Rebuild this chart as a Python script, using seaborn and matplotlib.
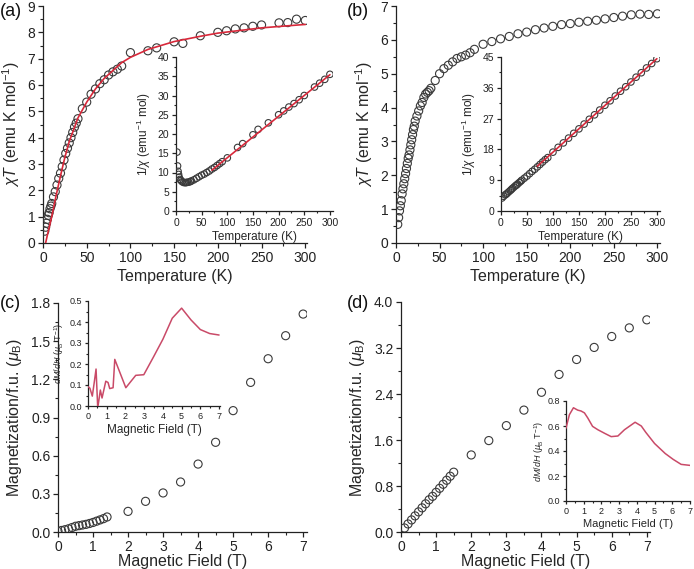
import numpy as np
import pandas as pd
import matplotlib
matplotlib.use("Agg")
import matplotlib.pyplot as plt
from matplotlib.ticker import MultipleLocator, FormatStrFormatter
import seaborn as sns

sns.set_theme(style="white")
plt.rcParams['font.family'] = ['Liberation Sans', 'DejaVu Sans']
plt.rcParams['mathtext.fontset'] = 'custom'
plt.rcParams['mathtext.rm'] = 'Liberation Sans'
plt.rcParams['mathtext.it'] = 'Liberation Sans:italic'

# ---------------- data ----------------
# (a) chi*T vs T
a_T = [2, 3, 4, 5, 6, 7, 8, 9, 10, 12, 14, 16, 18, 20, 22, 24, 26, 28, 30, 32, 34, 36, 38, 40,
       45, 50, 55, 60, 65, 70, 75, 80, 85, 90, 100, 120, 130, 150, 160, 180, 200, 210, 220,
       230, 240, 250, 270, 280, 290, 300]
a_chiT = [0.45, 0.6, 0.75, 0.9, 1.05, 1.15, 1.3, 1.4, 1.5, 1.75, 1.95, 2.2, 2.45, 2.65, 2.9,
          3.15, 3.4, 3.6, 3.8, 4.0, 4.2, 4.4, 4.55, 4.72, 5.1, 5.35, 5.65, 5.85, 6.05, 6.2,
          6.38, 6.5, 6.6, 6.72, 7.23, 7.3, 7.41, 7.64, 7.58, 7.87, 8.0, 8.06, 8.13, 8.17,
          8.23, 8.28, 8.36, 8.37, 8.5, 8.45]
a_fit_T = [3, 5, 10, 15, 20, 25, 30, 40, 50, 60, 70, 80, 90, 100, 120, 150, 180, 200, 250, 300]
a_fit_chiT = [0.0, 0.3, 1.0, 1.8, 2.55, 3.25, 3.85, 4.75, 5.35, 5.85, 6.25, 6.55, 6.85, 7.05,
              7.35, 7.65, 7.85, 7.97, 8.17, 8.3]
# (a) inset 1/chi vs T
ai_T = [2, 3, 4, 5, 6, 8, 10, 12, 15, 18, 20, 22, 25, 28, 30, 35, 40, 45, 50, 55, 60, 65, 70,
        75, 80, 85, 90, 100, 120, 130, 150, 160, 180, 200, 210, 220, 230, 240, 250, 270, 280,
        290, 300]
ai_inv = [15.3, 11.7, 10.3, 9.5, 8.8, 8.2, 7.9, 7.6, 7.4, 7.35, 7.4, 7.45, 7.5, 7.65, 7.8, 8.1,
          8.5, 8.9, 9.3, 9.6, 10.0, 10.4, 10.9, 11.3, 11.8, 12.3, 12.8, 13.8, 16.5, 17.5, 19.8,
          21.2, 22.9, 25.0, 26.0, 27.0, 27.9, 28.9, 30.0, 32.2, 33.2, 34.2, 35.5]
ai_fit_T = [70, 300]
ai_fit_inv = [10.6, 35.4]

# (b) chi*T vs T
b_T = [2, 3, 4, 5, 6, 7, 8, 9, 10, 11, 12, 13, 14, 15, 16, 17, 18, 19, 20, 21, 22, 24, 26, 28,
       30, 32, 34, 36, 38, 40, 45, 50, 55, 60, 65, 70, 75, 80, 85, 90, 100, 110, 120, 130,
       140, 150, 160, 170, 180, 190, 200, 210, 220, 230, 240, 250, 260, 270, 280, 290, 300]
b_chiT = [0.55, 0.75, 0.95, 1.1, 1.25, 1.45, 1.6, 1.75, 1.9, 2.05, 2.2, 2.35, 2.5, 2.6, 2.75,
          2.9, 3.05, 3.2, 3.35, 3.45, 3.6, 3.75, 3.9, 4.05, 4.15, 4.3, 4.4, 4.45, 4.5, 4.57,
          4.8, 5.0, 5.15, 5.25, 5.35, 5.45, 5.5, 5.55, 5.62, 5.72, 5.87, 5.95, 6.03, 6.1, 6.18,
          6.23, 6.3, 6.35, 6.4, 6.45, 6.48, 6.52, 6.55, 6.58, 6.62, 6.66, 6.7, 6.74, 6.76,
          6.75, 6.77]
# (b) inset 1/chi vs T
bi_T = [2, 5, 8, 10, 12, 15, 18, 20, 22, 25, 28, 30, 32, 35, 38, 40, 45, 50, 55, 60, 65, 70,
        75, 80, 85, 90, 100, 110, 120, 130, 140, 150, 160, 170, 180, 190, 200, 210, 220, 230,
        240, 250, 260, 270, 280, 290, 300]
bi_inv = [3.8, 4.3, 4.7, 4.9, 5.2, 5.6, 6.0, 6.3, 6.6, 7.0, 7.4, 7.6, 7.9, 8.3, 8.7, 9.0, 9.6,
          10.2, 10.9, 11.6, 12.2, 12.9, 13.6, 14.3, 15.0, 15.6, 17.2, 18.6, 19.9, 21.3, 22.7,
          24.0, 25.4, 26.8, 28.1, 29.5, 30.9, 32.2, 33.6, 35.0, 36.3, 37.7, 39.1, 40.4, 41.8,
          43.1, 44.5]
bi_fit_T = [70, 300]
bi_fit_inv = [13.1, 44.5]

# (c) magnetization vs field
c_H = [0.0, 0.1, 0.2, 0.3, 0.4, 0.5, 0.6, 0.7, 0.8, 0.9, 1.0, 1.1, 1.2, 1.3, 1.4,
       2.0, 2.5, 3.0, 3.5, 4.0, 4.5, 5.0, 5.5, 6.0, 6.5, 7.0]
c_M = [0.005, 0.012, 0.018, 0.025, 0.035, 0.045, 0.05, 0.055, 0.06, 0.067, 0.075, 0.085,
       0.095, 0.105, 0.118, 0.162, 0.241, 0.307, 0.393, 0.534, 0.705, 0.954, 1.176, 1.362,
       1.543, 1.713]
ci_H = [0.0, 0.1, 0.23, 0.33, 0.43, 0.52, 0.66, 0.75, 0.95, 1.07, 1.16, 1.34, 1.43, 2.02,
        2.55, 2.98, 3.5, 4.0, 4.5, 5.0, 5.5, 6.0, 6.5, 7.0]
ci_dMdH = [0.092, 0.085, 0.047, 0.11, 0.176, -0.01, 0.076, 0.038, 0.118, 0.112, 0.083, 0.087,
           0.222, 0.087, 0.146, 0.149, 0.234, 0.318, 0.418, 0.466, 0.41, 0.364, 0.345, 0.338]

# (d) magnetization vs field
d_H = [0.1, 0.2, 0.3, 0.4, 0.5, 0.6, 0.7, 0.8, 0.9, 1.0, 1.1, 1.2, 1.3, 1.4, 1.5,
       2.0, 2.5, 3.0, 3.5, 4.0, 4.5, 5.0, 5.5, 6.0, 6.5, 7.0]
d_M = [0.07, 0.14, 0.21, 0.28, 0.35, 0.42, 0.49, 0.56, 0.62, 0.69, 0.76, 0.83, 0.9, 0.97, 1.04,
       1.34, 1.59, 1.85, 2.12, 2.43, 2.74, 3.0, 3.21, 3.4, 3.55, 3.69]
di_H = [0.0, 0.19, 0.42, 0.66, 0.85, 1.04, 1.23, 1.5, 1.8, 2.2, 2.55, 2.93, 3.3, 3.6, 3.9,
        4.25, 4.5, 5.0, 5.6, 6.05, 6.5, 7.0]
di_dMdH = [0.583, 0.69, 0.746, 0.727, 0.72, 0.705, 0.664, 0.597, 0.57, 0.54, 0.515, 0.52,
           0.57, 0.6, 0.63, 0.6, 0.55, 0.46, 0.38, 0.333, 0.293, 0.285]

# ---------------- figure ----------------
W, H = 694, 569
fig = plt.figure(figsize=(W / 100, H / 100), dpi=100)

def add_ax(left, top, right, bottom):
    return fig.add_axes([left / W, 1 - bottom / H, (right - left) / W, (bottom - top) / H])

EDGE = '#3a3a3a'
RED = '#d8283a'
PINK = '#c94a68'

def style(ax, xmaj, xmin, ymaj, ymin, fs, yfmt=None, tl=3.5):
    for s in ['top', 'right']:
        ax.spines[s].set_visible(False)
    for s in ['left', 'bottom']:
        ax.spines[s].set_color('#222222')
        ax.spines[s].set_linewidth(0.9)
    ax.xaxis.set_major_locator(MultipleLocator(xmaj))
    ax.xaxis.set_minor_locator(MultipleLocator(xmin))
    ax.yaxis.set_major_locator(MultipleLocator(ymaj))
    ax.yaxis.set_minor_locator(MultipleLocator(ymin))
    if yfmt:
        ax.yaxis.set_major_formatter(FormatStrFormatter(yfmt))
    ax.tick_params(which='major', direction='out', length=tl, width=0.9, labelsize=fs,
                   colors='#222222', bottom=True, left=True, pad=2)
    ax.tick_params(which='minor', direction='out', length=tl * 0.55, width=0.8,
                   colors='#222222', bottom=True, left=True)
    ax.set_facecolor('none')
    ax.grid(False)

def scat(ax, x, y, s):
    df = pd.DataFrame({'x': x, 'y': y})
    sns.scatterplot(data=df, x='x', y='y', ax=ax, marker='o', s=s, facecolor='none',
                    edgecolor=EDGE, linewidth=0.8, zorder=3)

def line(ax, x, y, color, lw=1.2):
    df = pd.DataFrame({'x': x, 'y': y})
    sns.lineplot(data=df, x='x', y='y', ax=ax, color=color, linewidth=lw, sort=False,
                 estimator=None, zorder=4)

MAIN_FS = 10
LAB_FS = 11.5
IN_FS = 7.5
IN_LAB_FS = 8.5

chiT_label = r'$\chi T$ (emu K mol$^{-1}$)'
inv_label = r'1/$\chi$ (emu$^{-1}$ mol)'

# (a)
ax = add_ax(43, 6, 307, 243)
scat(ax, a_T, a_chiT, 34)
line(ax, a_fit_T, a_fit_chiT, RED)
ax.set_xlim(0, 302); ax.set_ylim(0, 9)
style(ax, 50, 25, 1, 0.5, MAIN_FS)
ax.set_xlabel('Temperature (K)', fontsize=LAB_FS, labelpad=3)
ax.set_ylabel(chiT_label, fontsize=LAB_FS, labelpad=4)

axi = add_ax(176, 57, 333, 211)
scat(axi, ai_T, ai_inv, 22)
line(axi, ai_fit_T, ai_fit_inv, RED)
axi.set_xlim(0, 306); axi.set_ylim(0, 40)
style(axi, 50, 25, 5, 2.5, IN_FS, tl=3)
axi.set_xlabel('Temperature (K)', fontsize=IN_LAB_FS, labelpad=2)
axi.set_ylabel(inv_label, fontsize=IN_LAB_FS, labelpad=3)

# (b)
ax = add_ax(396, 6, 660, 243)
scat(ax, b_T, b_chiT, 34)
ax.set_xlim(0, 303); ax.set_ylim(0, 7)
style(ax, 50, 25, 1, 0.5, MAIN_FS)
ax.set_xlabel('Temperature (K)', fontsize=LAB_FS, labelpad=3)
ax.set_ylabel(chiT_label, fontsize=LAB_FS, labelpad=4)

axi = add_ax(501, 57, 660, 211)
scat(axi, bi_T, bi_inv, 22)
line(axi, bi_fit_T, bi_fit_inv, RED)
axi.set_xlim(0, 306); axi.set_ylim(0, 45)
style(axi, 50, 25, 9, 4.5, IN_FS, tl=3)
axi.set_xlabel('Temperature (K)', fontsize=IN_LAB_FS, labelpad=2)
axi.set_ylabel(inv_label, fontsize=IN_LAB_FS, labelpad=3)

# (c)
ax = add_ax(58, 303, 307, 532)
scat(ax, c_H, c_M, 34)
ax.set_xlim(0, 7.11); ax.set_ylim(0, 1.8)
style(ax, 1, 0.5, 0.3, 0.15, MAIN_FS, yfmt='%.1f')
ax.set_xlabel('Magnetic Field (T)', fontsize=LAB_FS, labelpad=0)
ax.set_ylabel(r'Magnetization/f.u. ($\mu_{\rm B}$)', fontsize=LAB_FS, labelpad=5)

axi = add_ax(88, 301, 220, 406)
line(axi, ci_H, ci_dMdH, PINK, lw=1.1)
axi.set_xlim(0, 7.05); axi.set_ylim(0, 0.5)
style(axi, 1, 0.5, 0.1, 0.05, 6.5, yfmt='%.1f', tl=2.5)
axi.set_xlabel('Magnetic Field (T)', fontsize=IN_LAB_FS, labelpad=2)
axi.set_ylabel(r'$dM/dH$ ($\mu_{\rm B}$ T$^{-1}$)', fontsize=6.5)
axi.yaxis.set_label_coords(-0.165, 0.5)

# (d)
ax = add_ax(401, 302, 650, 532)
scat(ax, d_H, d_M, 34)
ax.set_xlim(0, 7.09); ax.set_ylim(0, 4.0)
style(ax, 1, 0.5, 0.8, 0.4, MAIN_FS, yfmt='%.1f')
ax.set_xlabel('Magnetic Field (T)', fontsize=LAB_FS, labelpad=0)
ax.set_ylabel(r'Magnetization/f.u. ($\mu_{\rm B}$)', fontsize=LAB_FS, labelpad=5)

axi = add_ax(566, 401, 690, 501)
line(axi, di_H, di_dMdH, PINK, lw=1.1)
axi.set_xlim(0, 7.0); axi.set_ylim(0, 0.8)
style(axi, 1, 0.5, 0.2, 0.1, 6.5, yfmt='%.1f', tl=2.5)
axi.set_xlabel('Magnetic Field (T)', fontsize=8, labelpad=2)
axi.set_ylabel(r'$dM/dH$ ($\mu_{\rm B}$ T$^{-1}$)', fontsize=6.5)
axi.yaxis.set_label_coords(-0.16, 0.5)

# panel labels
for txt, x, y in [('(a)', 0, 12), ('(b)', 347, 12), ('(c)', 0, 303), ('(d)', 347, 303)]:
    fig.text(x / W, 1 - y / H, txt, fontsize=13, ha='left', va='center', color='#111111')

fig.savefig('out.png', dpi=100, facecolor='white')
